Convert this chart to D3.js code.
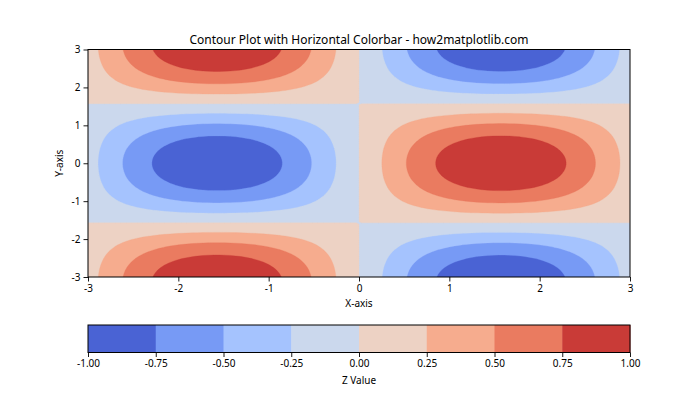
<!DOCTYPE html>
<html><head><meta charset="utf-8">
<script src="https://cdn.jsdelivr.net/npm/d3@7"></script>
<style>
body{margin:0;background:#fff;}
text{font-family:"Noto Sans","DejaVu Sans",sans-serif;fill:#000;}
</style></head>
<body><svg id="c" width="700" height="420"></svg>
<script>
// Data
const title = "Contour Plot with Horizontal Colorbar - how2matplotlib.com";
const xLabel = "X-axis", yLabel = "Y-axis", cbLabel = "Z Value";
const nGrid = 100;
const xRange = [-3, 3], yRange = [-3, 3];
const levels = [-1, -0.75, -0.5, -0.25, 0, 0.25, 0.5, 0.75, 1];
const levelColors = ["#4a63d4","#779af5","#a5c3fe","#cbd8ed","#edd2c4","#f6ac8e","#ea7b60","#c93b37"];
const xTicks = [-3, -2, -1, 0, 1, 2, 3];
const yTicks = [-3, -2, -1, 0, 1, 2, 3];
const cbTicks = [-1, -0.75, -0.5, -0.25, 0, 0.25, 0.5, 0.75, 1];

// Z = sin(X) * cos(Y) on a 100x100 grid
const gx = d3.range(nGrid).map(i => xRange[0] + (xRange[1]-xRange[0]) * i/(nGrid-1));
const gy = d3.range(nGrid).map(j => yRange[0] + (yRange[1]-yRange[0]) * j/(nGrid-1));
const values = [];
for (let j = 0; j < nGrid; j++) for (let i = 0; i < nGrid; i++) values.push(Math.sin(gx[i]) * Math.cos(gy[j]));

const svg = d3.select("#c");
const plot = {l: 88, r: 630, t: 49.5, b: 277};
const x = d3.scaleLinear().domain(xRange).range([plot.l, plot.r]);
const y = d3.scaleLinear().domain(yRange).range([plot.b, plot.t]);

svg.append("clipPath").attr("id","clip").append("rect")
  .attr("x", plot.l).attr("y", plot.t).attr("width", plot.r-plot.l).attr("height", plot.b-plot.t);

const gridX = d3.scaleLinear().domain([0.5, nGrid-0.5]).range(xRange);
const gridY = d3.scaleLinear().domain([0.5, nGrid-0.5]).range(yRange);
const proj = d3.geoTransform({point: function(px, py){ this.stream.point(x(gridX(px)), y(gridY(py))); }});
const path = d3.geoPath(proj);

const contours = d3.contours().size([nGrid, nGrid]).smooth(true)
  .thresholds(levels.slice(0, -1))(values);

const gC = svg.append("g").attr("clip-path","url(#clip)");
gC.selectAll("path").data(contours).join("path")
  .attr("d", d => path(d))
  .attr("fill", (d, i) => levelColors[i])
  .attr("stroke", (d, i) => levelColors[i])
  .attr("stroke-width", 0.3);

const hy = s => s.replace("\u2212", "-");
const fmtInt = d => hy(d3.format("d")(d));
const fmt2 = d => hy(d3.format(".2f")(d));

// axes
const xAxis = svg.append("g").attr("transform", `translate(0,${plot.b})`)
  .call(d3.axisBottom(x).tickValues(xTicks).tickFormat(fmtInt).tickSize(4.5).tickPadding(3));
const yAxis = svg.append("g").attr("transform", `translate(${plot.l},0)`)
  .call(d3.axisLeft(y).tickValues(yTicks).tickFormat(fmtInt).tickSize(4.5).tickPadding(3));
[xAxis, yAxis].forEach(a => { a.select(".domain").remove(); a.selectAll("text").attr("font-size", 10).style("font-family",'"Noto Sans",sans-serif'); a.selectAll("line").attr("stroke","#000").attr("stroke-width",0.9); });
svg.append("rect").attr("x", plot.l).attr("y", plot.t).attr("width", plot.r-plot.l).attr("height", plot.b-plot.t)
  .attr("fill","none").attr("stroke","#000").attr("stroke-width",1);

svg.append("text").attr("x", (plot.l+plot.r)/2).attr("y", 44).attr("text-anchor","middle").attr("font-size",12).text(title);
svg.append("text").attr("x", (plot.l+plot.r)/2).attr("y", 307).attr("text-anchor","middle").attr("font-size",10).text(xLabel);
svg.append("text").attr("transform", `translate(63,${(plot.t+plot.b)/2}) rotate(-90)`).attr("text-anchor","middle").attr("font-size",10).text(yLabel);

// colorbar
const cb = {l: 88, r: 630, t: 325, b: 352.5};
const cx = d3.scaleLinear().domain([levels[0], levels[levels.length-1]]).range([cb.l, cb.r]);
svg.append("g").selectAll("rect").data(levelColors).join("rect")
  .attr("x", (d,i) => cx(levels[i])).attr("y", cb.t)
  .attr("width", (d,i) => cx(levels[i+1]) - cx(levels[i]) + 0.5).attr("height", cb.b-cb.t)
  .attr("fill", d => d);
svg.append("rect").attr("x", cb.l).attr("y", cb.t).attr("width", cb.r-cb.l).attr("height", cb.b-cb.t)
  .attr("fill","none").attr("stroke","#000").attr("stroke-width",1);
const cAxis = svg.append("g").attr("transform", `translate(0,${cb.b})`)
  .call(d3.axisBottom(cx).tickValues(cbTicks).tickFormat(fmt2).tickSize(4.5).tickPadding(3));
cAxis.select(".domain").remove();
cAxis.selectAll("text").attr("font-size", 10).style("font-family",'"Noto Sans",sans-serif');
cAxis.selectAll("line").attr("stroke","#000").attr("stroke-width",0.9);
svg.append("text").attr("x", (cb.l+cb.r)/2).attr("y", 384).attr("text-anchor","middle").attr("font-size",10).text(cbLabel);
</script></body></html>
